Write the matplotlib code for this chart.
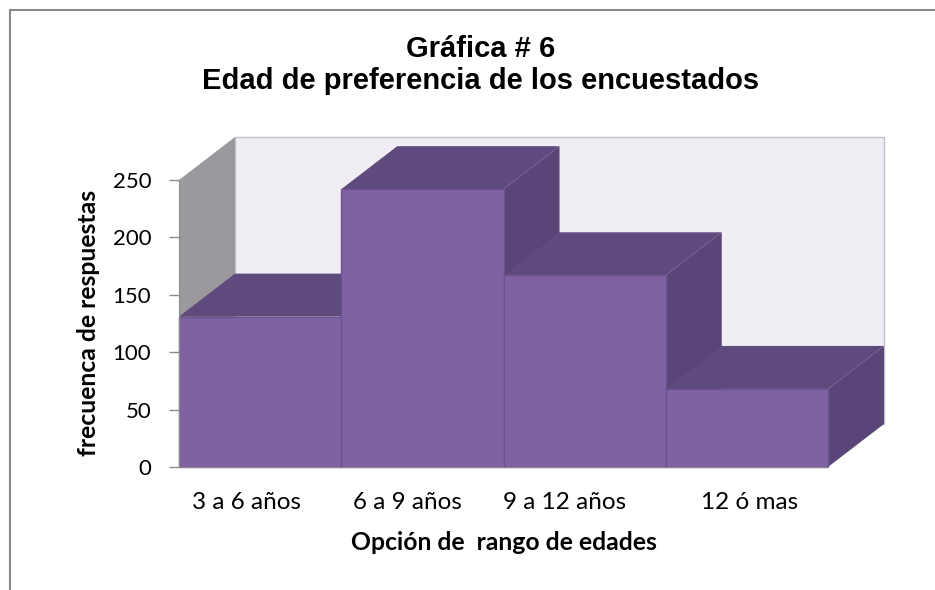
import matplotlib
matplotlib.use('Agg')
import matplotlib.pyplot as plt
from matplotlib.patches import Polygon
from matplotlib.lines import Line2D

categorias = ['3 a 6 años', '6 a 9 años', '9 a 12 años', '12 ó mas']
frecuencia = [131, 242, 167, 68]
ticks_y = [0, 50, 100, 150, 200, 250]

FRENTE = '#7F62A4'
ARRIBA = '#5F4A7E'
LADO = '#594577'
PARED = '#F0EDF4'
PARED_IZQ = '#9B999D'

fig = plt.figure(figsize=(9.35, 5.9), dpi=100)
ax = fig.add_axes([179 / 935, 123 / 590, 649 / 935, 287 / 590])
ax.set_xlim(0, 4)
ax.set_ylim(0, 250)
ax.patch.set_visible(False)

# profundidad del efecto 3d, en unidades de datos
dx = 56 / 649 * 4
dy = 43 / 287 * 250

# paredes
ax.add_patch(Polygon([(dx, dy), (4 + dx, dy), (4 + dx, 250 + dy), (dx, 250 + dy)],
                     fc=PARED, ec='#C4C2C6', lw=1, clip_on=False, zorder=1))
ax.add_patch(Polygon([(0, 0), (dx, dy), (dx, 250 + dy), (0, 250)],
                     fc=PARED_IZQ, ec='none', clip_on=False, zorder=1))

for i, v in enumerate(frecuencia):
    z = 2 + i
    ax.add_patch(Polygon([(i + 1, 0), (i + 1 + dx, dy), (i + 1 + dx, v + dy), (i + 1, v)],
                         fc=LADO, ec='none', clip_on=False, zorder=z))
    ax.add_patch(Polygon([(i, v), (i + dx, v + dy), (i + 1 + dx, v + dy), (i + 1, v)],
                         fc=ARRIBA, ec='none', clip_on=False, zorder=z))
    ax.bar(i + 0.5, v, width=1, color=FRENTE, edgecolor='#6C5390', linewidth=1,
           clip_on=False, zorder=z + 0.5)

for s in ['top', 'right']:
    ax.spines[s].set_visible(False)
ax.spines['left'].set_color('#8C8C8C')
ax.spines['bottom'].set_color('#8C8C8C')
ax.spines['left'].set_zorder(10)
ax.spines['bottom'].set_zorder(10)

ax.set_yticks(ticks_y)
# las etiquetas no quedan centradas bajo las barras en el original
ax.set_xticks([0.413, 1.411, 2.379, 3.516])
ax.set_xticklabels(categorias)
ax.tick_params(axis='y', length=7, width=1, color='#8C8C8C', labelsize=16, pad=13)
ax.tick_params(axis='x', length=0, labelsize=17.5, pad=18)
for t in ax.get_xticklabels() + ax.get_yticklabels():
    t.set_family('Lato')

fig.text(504 / 935, 1 - 543 / 590, 'Opción de  rango de edades', ha='center', va='center',
         family='Lato', fontweight='bold', fontsize=17.8)
fig.text(89 / 935, 1 - 323 / 590, 'frecuenca de respuestas', rotation=90, ha='center', va='center',
         family='Lato', fontweight='bold', fontsize=17.8)
fig.text(481 / 935, 1 - 65 / 590, 'Gráfica # 6\nEdad de preferencia de los encuestados',
         ha='center', va='center', family='Liberation Sans', fontweight='bold',
         fontsize=21, linespacing=1.22)

# marco del grafico
fig.add_artist(Line2D([1, 10 / 935, 10 / 935], [1 - 10 / 590, 1 - 10 / 590, 0],
                      color='#8A8A8A', lw=1.5))

fig.savefig('out.png', dpi=100)
